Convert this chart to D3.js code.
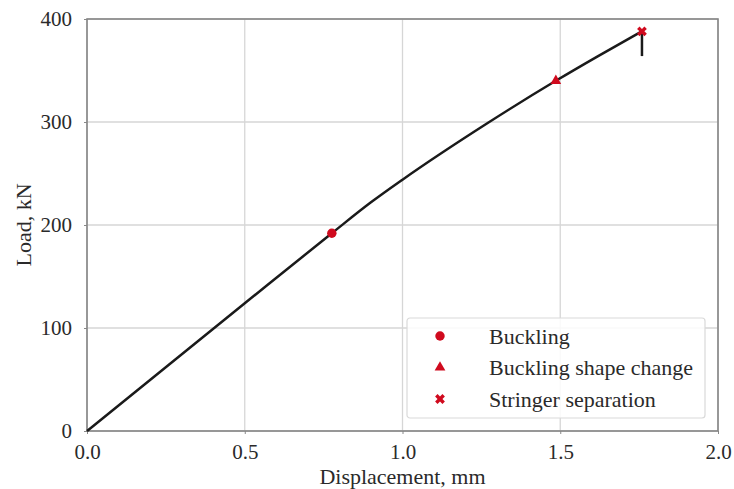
<!DOCTYPE html>
<html>
<head>
<meta charset="utf-8">
<script src="https://cdn.jsdelivr.net/npm/d3@7"></script>
<style>
  body { margin: 0; background: #fff; }
  text { font-family: "Liberation Serif", "DejaVu Serif", serif; fill: #2a2a2a; }
</style>
</head>
<body>
<div id="chart"></div>
<script>
// load-displacement curve
const disp = [0, 0.5, 0.776, 0.9, 1.0, 1.27, 1.486, 1.62, 1.759];
const load = [0, 124, 192, 222, 244, 299, 340, 364, 388];
// load drop after stringer separation
const dropDisp = [1.759, 1.759];
const dropLoad = [388, 364];

// events
const eventNames = ["Buckling", "Buckling shape change", "Stringer separation"];
const eventDisp = [0.776, 1.486, 1.759];
const eventLoad = [192, 340, 388];

const xTicks = [0, 0.5, 1.0, 1.5, 2.0];
const yTicks = [0, 100, 200, 300, 400];

const margin = { top: 19, right: 16, bottom: 58, left: 87 };
const width = 734 - margin.left - margin.right;
const height = 489 - margin.top - margin.bottom;

const svg = d3.select("#chart")
    .append("svg")
    .attr("width", 734)
    .attr("height", 489)
    .append("g")
    .attr("transform", `translate(${margin.left}, ${margin.top})`);

const x = d3.scaleLinear().domain([0, 2]).range([0, width]);
const y = d3.scaleLinear().domain([0, 400]).range([height, 0]);

// grid
svg.append("g").selectAll("line").data(xTicks).join("line")
    .attr("x1", d => x(d)).attr("x2", d => x(d))
    .attr("y1", 0).attr("y2", height)
    .attr("stroke", "#d6d6d6").attr("stroke-width", 1.3);
svg.append("g").selectAll("line").data(yTicks).join("line")
    .attr("x1", 0).attr("x2", width)
    .attr("y1", d => y(d)).attr("y2", d => y(d))
    .attr("stroke", "#d6d6d6").attr("stroke-width", 1.3);

// axes
const xAxis = svg.append("g")
    .attr("transform", `translate(0, ${height})`)
    .call(d3.axisBottom(x).tickValues(xTicks).tickFormat(d3.format(".1f")).tickSize(3).tickPadding(10));
const yAxis = svg.append("g")
    .call(d3.axisLeft(y).tickValues(yTicks).tickSize(3).tickPadding(12));
[xAxis, yAxis].forEach(a => {
    a.select(".domain").remove();
    a.selectAll(".tick line").attr("stroke", "#888");
    a.selectAll("text").style("font-size", "21px").attr("fill", "#2a2a2a");
});

// frame
svg.append("rect")
    .attr("width", width).attr("height", height)
    .attr("fill", "none").attr("stroke", "#858585").attr("stroke-width", 1.6);

// axis titles
svg.append("text")
    .attr("x", width / 2).attr("y", height + 53)
    .attr("text-anchor", "middle")
    .style("font-size", "22px")
    .text("Displacement, mm");
svg.append("text")
    .attr("transform", "rotate(-90)")
    .attr("x", -height / 2).attr("y", -56)
    .attr("text-anchor", "middle")
    .style("font-size", "22px")
    .text("Load, kN");

// curve
const line = d3.line().x(d => x(d[0])).y(d => y(d[1]));
svg.append("path")
    .datum(disp.map((d, i) => [d, load[i]]))
    .attr("fill", "none")
    .attr("stroke", "#1a1a1a")
    .attr("stroke-width", 2.5)
    .attr("d", line.curve(d3.curveMonotoneX));
svg.append("path")
    .datum(dropDisp.map((d, i) => [d, dropLoad[i]]))
    .attr("fill", "none")
    .attr("stroke", "#1a1a1a")
    .attr("stroke-width", 2.5)
    .attr("d", d3.line().x(d => x(d[0])).y(d => y(d[1])));

// markers
const red = "#d00a1e";
const symbols = [d3.symbolCircle, d3.symbolTriangle, d3.symbolCross];
const sizes = [70, 50, 60];
function marker(g, i, cx, cy) {
    g.append("path")
        .attr("transform", `translate(${cx}, ${cy}) rotate(${i === 2 ? 45 : 0})`)
        .attr("d", d3.symbol().type(symbols[i]).size(sizes[i])())
        .attr("fill", red);
}
eventNames.forEach((n, i) => marker(svg, i, x(eventDisp[i]), y(eventLoad[i])));

// legend
const lg = svg.append("g").attr("transform", "translate(320, 299)");
lg.append("rect")
    .attr("width", 298).attr("height", 100).attr("rx", 3)
    .attr("fill", "#fff").attr("fill-opacity", 0.85)
    .attr("stroke", "#d9d9d9").attr("stroke-width", 1.2);
eventNames.forEach((n, i) => {
    const ly = 18 + i * 31.5;
    marker(lg, i, 33, ly);
    lg.append("text")
        .attr("x", 82).attr("y", ly)
        .attr("dy", "0.35em")
        .style("font-size", "22px")
        .text(n);
});
</script>
</body>
</html>
